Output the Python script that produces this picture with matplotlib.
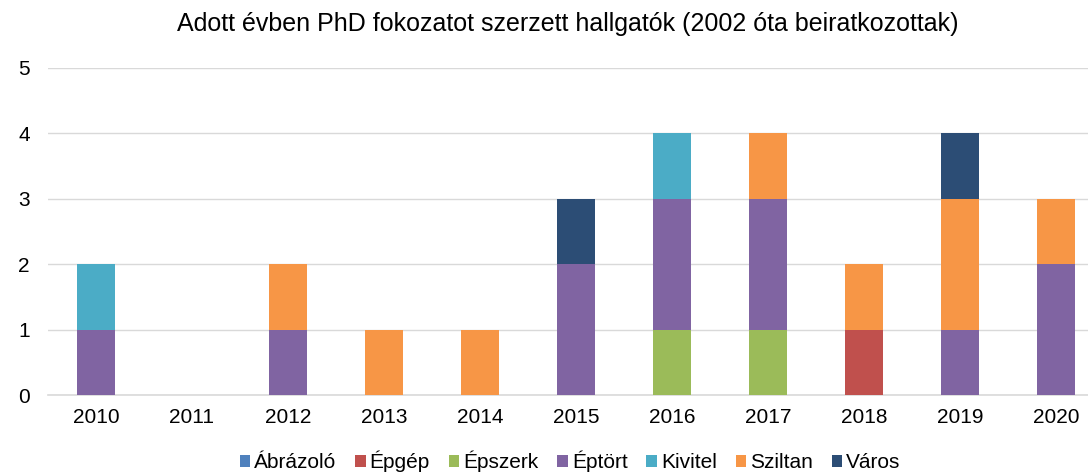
import numpy as np
import matplotlib.pyplot as plt

plt.rcParams['font.family'] = ['Liberation Sans', 'DejaVu Sans']

years = ['2010', '2011', '2012', '2013', '2014', '2015', '2016', '2017', '2018', '2019', '2020']
abrazolo = [0, 0, 0, 0, 0, 0, 0, 0, 0, 0, 0]
epgep    = [0, 0, 0, 0, 0, 0, 0, 0, 1, 0, 0]
epszerk  = [0, 0, 0, 0, 0, 0, 1, 1, 0, 0, 0]
eptort   = [1, 0, 1, 0, 0, 2, 2, 2, 0, 1, 2]
kivitel  = [1, 0, 0, 0, 0, 0, 1, 0, 0, 0, 0]
sziltan  = [0, 0, 1, 1, 1, 0, 0, 1, 1, 2, 1]
varos    = [0, 0, 0, 0, 0, 1, 0, 0, 0, 1, 0]

series = [('Ábrázoló', abrazolo, '#4F81BD'),
          ('Épgép', epgep, '#C0504D'),
          ('Épszerk', epszerk, '#9BBB59'),
          ('Éptört', eptort, '#8064A2'),
          ('Kivitel', kivitel, '#4BACC6'),
          ('Sziltan', sziltan, '#F79646'),
          ('Város', varos, '#2C4D75')]

fig = plt.figure(figsize=(10.88, 4.72), dpi=100)
# the original chart is cut off on the right, so the axes run past the edge
ax = fig.add_axes([0.0441, 0.163, 0.9706, 0.693])

x = np.arange(len(years))
bottom = np.zeros(len(years))
for name, vals, col in series:
    vals = np.array(vals, dtype=float)
    ax.bar(x, vals, 0.40, bottom=bottom, color=col, label=name, zorder=3)
    bottom += vals

ax.set_ylim(0, 5)
ax.set_xlim(-0.5, len(years) - 0.5)
ax.set_yticks(range(6))
ax.set_xticks(x)
ax.set_xticklabels(years)
ax.grid(axis='y', color='#d9d9d9', linewidth=1, zorder=0)
for s in ['top', 'right', 'left']:
    ax.spines[s].set_visible(False)
ax.spines['bottom'].set_color('#d9d9d9')
ax.spines['bottom'].set_linewidth(1.2)
ax.tick_params(axis='both', length=0, labelsize=15, colors='#000000')
ax.tick_params(axis='x', pad=9)
ax.tick_params(axis='y', pad=13)

fig.text(0.522, 0.95, 'Adott évben PhD fokozatot szerzett hallgatók (2002 óta beiratkozottak)',
         ha='center', va='center', fontsize=18)

fig.legend(loc='center', bbox_to_anchor=(0.524, 0.022), ncol=7, frameon=False,
           fontsize=15, handlelength=0.5, handleheight=0.5, handletextpad=0.2,
           columnspacing=0.9)

fig.savefig('out.png', dpi=100)
